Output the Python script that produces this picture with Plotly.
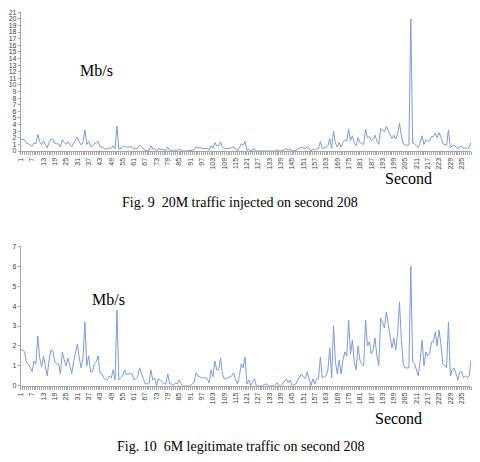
import plotly.graph_objects as go

seconds = list(range(1, 241))

legit_traffic = [
    1.8, 1.8, 1.7, 1.15, 1.1, 0.9, 0.72, 1.25, 1.1, 2.5,
    1.4, 0.95, 1.5, 1.0, 0.5, 1.3, 1.8, 1.75, 1.2, 1.1,
    1.1, 0.6, 1.7, 1.3, 1.0, 1.4, 1.0, 0.62, 1.2, 1.6,
    2.1, 1.4, 0.9, 1.4, 3.2, 1.0, 1.5, 0.7, 0.7, 1.1,
    1.2, 1.5, 0.65, 0.6, 0.4, 0.3, 0.3, 0.5, 0.4, 0.8,
    0.3, 3.8, 0.3, 0.4, 0.5, 0.8, 0.55, 0.65, 0.6, 0.6,
    0.3, 0.35, 0.45, 0.9, 0.6, 0.3, 0.1, 0.1, 0.1, 0.8,
    0.3, 0.4, 0.0, 0.35, 0.3, 0.2, 0.1, 0.1, 0.6, 0.1,
    0.1, 0.0, 0.15, 0.1, 0.3, 0.1, 0.0, 0.0, 0.0, 0.0,
    0.0, 0.1, 0.2, 0.65, 0.5, 0.45, 0.4, 0.4, 0.4, 0.35,
    0.15, 0.8, 0.45, 1.25, 0.8, 0.8, 1.4, 0.6, 0.35, 0.35,
    0.4, 0.45, 0.5, 0.65, 0.3, 0.1, 0.5, 1.1, 0.9, 1.45,
    0.1, 0.3, 0.0, 0.2, 0.35, 0.0, 0.0, 0.0, 0.0, 0.05,
    0.1, 0.05, 0.0, 0.0, 0.0, 0.0, 0.15, 0.0, 0.0, 0.1,
    0.2, 0.35, 0.15, 0.3, 0.0, 0.05, 0.1, 0.3, 0.45, 0.6,
    0.45, 0.35, 0.7, 0.4, 0.0, 0.35, 0.1, 0.35, 0.35, 1.45,
    0.4, 0.45, 0.5, 0.8, 1.9, 0.4, 3.0, 1.2, 0.6, 1.3,
    0.6, 1.3, 1.7, 1.5, 3.3, 1.6, 2.3, 1.2, 0.8, 2.0,
    1.3, 1.1, 1.0, 3.3, 2.0, 2.2, 1.6, 1.8, 2.4, 1.5,
    1.0, 3.4, 3.2, 2.9, 3.7, 3.1, 2.5, 1.9, 2.4, 1.8,
    2.6, 4.2, 2.3, 1.1, 0.9, 0.9, 0.9, 6.0, 1.2, 1.1,
    0.8, 0.5, 1.3, 2.3, 1.0, 1.7, 1.5, 1.6, 2.2, 2.2,
    2.7, 2.0, 2.8, 2.1, 1.1, 1.0, 0.9, 3.2, 0.5, 0.8,
    0.9, 0.6, 0.3, 0.7, 0.7, 0.4, 0.5, 0.4, 0.5, 1.3,
]

# Fig. 9: same traffic, but 20M injected on second 208
injected_traffic = list(legit_traffic)
injected_traffic[207] = 20.0

x_tick_labels = [str(v) for v in range(1, 236, 6)]
x_tick_vals = list(range(1, 236, 6))
y1_ticks = list(range(0, 22))
y2_ticks = list(range(0, 8))

W, H = 480, 462
line_color = "#7c9cd2"
axis_color = "#a6a6a6"
tick_font = dict(family="Liberation Sans, Arial, sans-serif", size=7, color="#404040")
serif = "Liberation Serif, Times New Roman, serif"

def px(x):
    return x / W

def py(y):
    return 1 - y / H

fig = go.Figure()
fig.add_trace(go.Scatter(x=seconds, y=injected_traffic, mode="lines",
                         line=dict(color=line_color, width=1),
                         xaxis="x", yaxis="y", showlegend=False))
fig.add_trace(go.Scatter(x=seconds, y=legit_traffic, mode="lines",
                         line=dict(color=line_color, width=1),
                         xaxis="x2", yaxis="y2", showlegend=False))

xaxis_common = dict(
    range=[1, 240], domain=[px(17), px(471)],
    tickvals=x_tick_vals, ticktext=x_tick_labels, tickangle=-90,
    ticks="outside", ticklen=3, tickcolor=axis_color, tickwidth=1,
    minor=dict(dtick=1, tick0=1, ticks="outside", ticklen=3, tickcolor=axis_color, tickwidth=1),
    showline=True, linecolor=axis_color, linewidth=1,
    showgrid=False, zeroline=False, tickfont=tick_font, fixedrange=True,
)
yaxis_common = dict(
    ticks="outside", ticklen=2, tickcolor=axis_color,
    showline=True, linecolor=axis_color, linewidth=1,
    showgrid=False, zeroline=False, tickfont=tick_font, fixedrange=True,
)

annotations = [
    dict(text="Mb/s", x=px(93), y=py(68), font=dict(family=serif, size=16, color="black")),
    dict(text="Second", x=px(408), y=py(177), font=dict(family=serif, size=16, color="black")),
    dict(text="Fig. 9  20M traffic injected on second 208", x=px(238), y=py(202),
         font=dict(family=serif, size=14, color="black")),
    dict(text="Mb/s", x=px(105), y=py(300), font=dict(family=serif, size=16, color="black")),
    dict(text="Second", x=px(398), y=py(421), font=dict(family=serif, size=16, color="black")),
    dict(text="Fig. 10  6M legitimate traffic on second 208", x=px(238), y=py(449),
         font=dict(family=serif, size=14, color="black")),
]
for a in annotations:
    a.update(xref="paper", yref="paper", xanchor="center", yanchor="middle", showarrow=False)

fig.update_layout(
    width=W, height=H,
    margin=dict(l=0, r=0, t=0, b=0),
    paper_bgcolor="white", plot_bgcolor="white",
    xaxis=dict(anchor="y", **xaxis_common),
    yaxis=dict(anchor="x", domain=[py(149.3), py(8.3)], range=[0, 21],
               tickvals=y1_ticks, **yaxis_common),
    xaxis2=dict(anchor="y2", **xaxis_common),
    yaxis2=dict(anchor="x2", domain=[py(387.7), py(246)], range=[0, 7],
                tickvals=y2_ticks, **yaxis_common),
    annotations=annotations,
    showlegend=False,
)

fig.write_html("out.html")
